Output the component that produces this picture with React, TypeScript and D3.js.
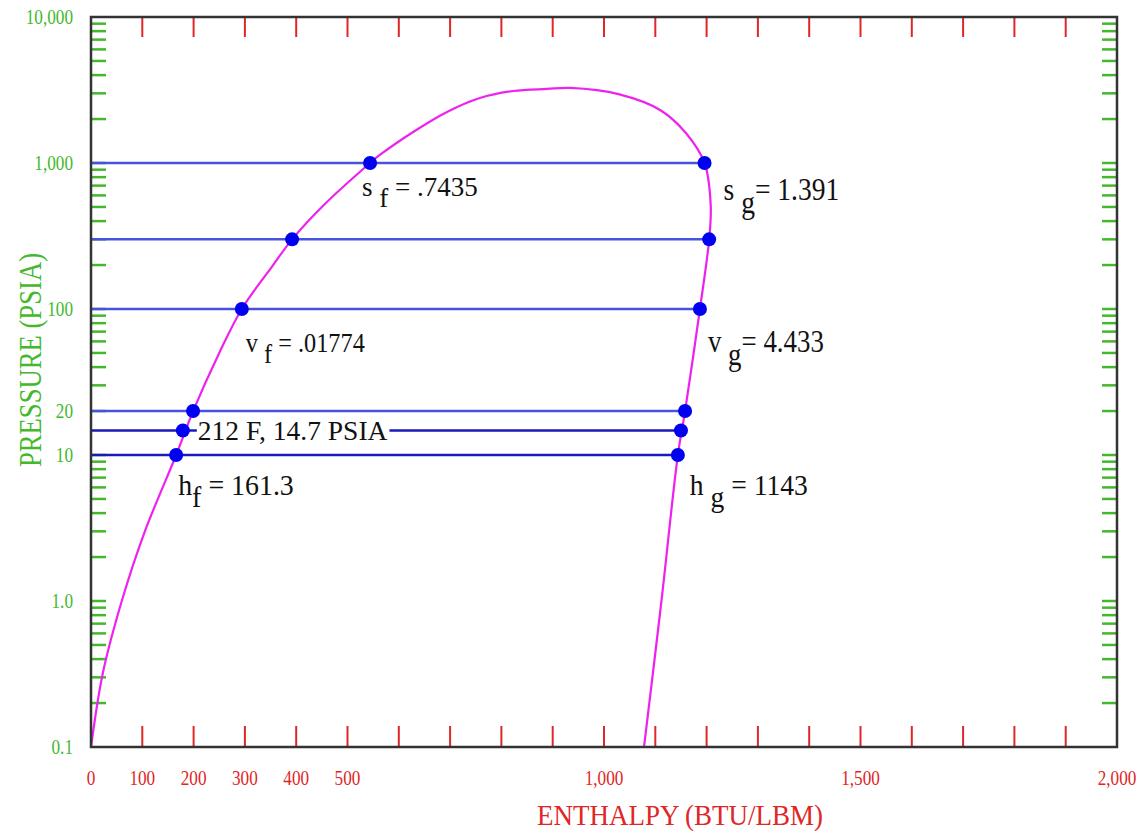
import React, { useEffect, useRef } from 'react';
import * as d3 from 'd3';

// saturation states (psia, BTU/lbm)
const satPressure = [1000, 300, 100, 20, 14.7, 10];
const satLiquidH = [544, 392, 294, 199, 179, 166];
const satVaporH = [1196, 1205, 1187, 1158, 1150, 1144];
const lineShade = ['light', 'light', 'light', 'light', 'dark', 'dark'];

// saturation dome outline, liquid side -> critical point -> vapor side
const domeH = [0, 23, 60, 105, 166, 199, 250, 294, 355, 392, 450, 544, 563, 628, 694, 758, 823, 889, 934,
  1030, 1110, 1160, 1196, 1208, 1205, 1187, 1158, 1144, 1112, 1078];
const domeP = [0.1, 0.32, 1, 3, 10, 20, 50, 100, 200, 300, 500, 1000, 1135, 1631, 2236, 2786, 3113, 3215, 3265,
  2950, 2300, 1600, 1000, 515, 300, 100, 20, 10, 1, 0.1];

const yLabelValues = [10000, 1000, 100, 20, 10, 1, 0.1];
const yLabelText = ['10,000', '1,000', '100', '20', '10', '1.0', '0.1'];
const xLabelValues = [0, 100, 200, 300, 400, 500, 1000, 1500, 2000];

const GREEN = '#44b82c';
const RED = '#e02626';
const FONT = '"Liberation Serif", "DejaVu Serif", serif';

const App = () => {
  const svgRef = useRef<SVGSVGElement | null>(null);

  useEffect(() => {
    const svg = d3.select(svgRef.current);
    svg.selectAll('*').remove();

    const x = d3.scaleLinear().domain([0, 2000]).range([91, 1117]);
    const y = d3.scaleLog().domain([0.1, 10000]).range([747, 17]);
    const [x0, x1] = x.range();
    const [y0, y1] = y.range();

    // condensed text helper (chart fonts are narrow)
    const addText = (px, py, str, size, color, sx = 1, anchor = 'start', rot = 0) => {
      return svg.append('text')
        .attr('transform', `translate(${px},${py}) rotate(${rot}) scale(${sx},1)`)
        .attr('text-anchor', anchor)
        .attr('font-family', FONT)
        .attr('font-size', size)
        .attr('fill', color)
        .text(str);
    };

    // green pressure ticks, both sides
    const yTicks = y.ticks().filter(v => v > 0.1 && v < 10000);
    svg.append('g').selectAll('line').data(yTicks).join('line')
      .attr('x1', x0).attr('x2', x0 + 15)
      .attr('y1', d => y(d)).attr('y2', d => y(d))
      .attr('stroke', GREEN).attr('stroke-width', 2.5);
    svg.append('g').selectAll('line').data(yTicks).join('line')
      .attr('x1', x1 - 15).attr('x2', x1)
      .attr('y1', d => y(d)).attr('y2', d => y(d))
      .attr('stroke', GREEN).attr('stroke-width', 2.5);

    // red enthalpy ticks, top and bottom
    const xTicks = x.ticks(20).filter(v => v > 0 && v < 2000);
    svg.append('g').selectAll('line').data(xTicks).join('line')
      .attr('x1', d => x(d)).attr('x2', d => x(d))
      .attr('y1', y1).attr('y2', y1 + 20)
      .attr('stroke', RED).attr('stroke-width', 2);
    svg.append('g').selectAll('line').data(xTicks).join('line')
      .attr('x1', d => x(d)).attr('x2', d => x(d))
      .attr('y1', y0 - 21).attr('y2', y0)
      .attr('stroke', RED).attr('stroke-width', 2);

    // tick labels
    yLabelValues.forEach((v, i) => {
      addText(73, y(v) + 7, yLabelText[i], 21.5, GREEN, 0.8, 'end');
    });
    const fmt = d3.format(',');
    xLabelValues.forEach(v => {
      addText(x(v), 785, fmt(v), 21.5, RED, 0.8, 'middle');
    });

    // axis titles
    addText(680, 825, 'ENTHALPY (BTU/LBM)', 30, RED, 0.9, 'middle');
    addText(41, 360, 'PRESSURE (PSIA)', 31, GREEN, 0.86, 'middle', -90);

    // constant pressure lines
    satPressure.forEach((p, i) => {
      svg.append('line')
        .attr('x1', x0).attr('x2', x(satVaporH[i]))
        .attr('y1', y(p)).attr('y2', y(p))
        .attr('stroke', lineShade[i] === 'light' ? '#4852e0' : '#1a1ab8')
        .attr('stroke-width', 2.5);
    });

    // dome
    const pts = domeH.map((h, i) => [x(h), y(domeP[i])] as [number, number]);
    svg.append('path')
      .attr('d', d3.line().curve(d3.curveCatmullRom.alpha(0.5))(pts))
      .attr('fill', 'none')
      .attr('stroke', '#ee22ee')
      .attr('stroke-width', 2.2);

    // frame
    svg.append('rect')
      .attr('x', x0).attr('y', y1)
      .attr('width', x1 - x0).attr('height', y0 - y1)
      .attr('fill', 'none').attr('stroke', '#333').attr('stroke-width', 2.5);

    // 212 F label, breaks the 14.7 line
    const atmIdx = satPressure.indexOf(14.7);
    const lblX = x(satLiquidH[atmIdx]) + 15;
    const lblY = y(satPressure[atmIdx]);
    const bg = svg.append('rect').attr('fill', 'white');
    const atm = addText(lblX, lblY + 9, '212 F, 14.7 PSIA', 27.5, '#111', 1.0);
    const w = (atm.node() as SVGTextElement).getComputedTextLength();
    bg.attr('x', lblX - 1).attr('y', lblY - 3).attr('width', w + 3).attr('height', 6);

    // dots
    const dots = satPressure.flatMap((p, i) => [[satLiquidH[i], p], [satVaporH[i], p]]);
    svg.append('g').selectAll('circle').data(dots).join('circle')
      .attr('cx', d => x(d[0])).attr('cy', d => y(d[1]))
      .attr('r', 7).attr('fill', '#0000f0');

    // property labels
    const propLabel = (px, py, main, sub, rest, size, sx) => {
      const t = svg.append('text')
        .attr('transform', `translate(${px},${py}) scale(${sx},1)`)
        .attr('font-family', FONT)
        .attr('font-size', size)
        .attr('fill', '#111');
      t.append('tspan').text(main);
      t.append('tspan').attr('dy', '0.4em').text(sub);
      t.append('tspan').attr('dy', '-0.4em').text(rest);
    };
    const iP = p => satPressure.indexOf(p);
    propLabel(x(satLiquidH[iP(1000)]) - 8, y(1000) + 33, 's ', 'f', ' = .7435', 27, 1.0);
    propLabel(x(satVaporH[iP(1000)]) + 19, y(1000) + 37, 's ', 'g', '= 1.391', 32, 0.86);
    propLabel(x(satLiquidH[iP(100)]) + 4, y(100) + 43, 'v ', 'f', ' = .01774', 27, 0.9);
    propLabel(x(satVaporH[iP(100)]) + 8, y(100) + 43, 'v ', 'g', '= 4.433', 32, 0.84);
    propLabel(x(satLiquidH[iP(10)]) + 2, y(10) + 40, 'h', 'f', ' = 161.3', 30, 0.93);
    propLabel(x(satVaporH[iP(10)]) + 12, y(10) + 40, 'h ', 'g', ' = 1143', 30, 0.92);
  }, []);

  return (
    <svg
      ref={svgRef}
      width={1147}
      height={835}
      style={{ position: 'absolute', left: 0, top: 0, background: 'white' }}
    />
  );
};

export default App;
